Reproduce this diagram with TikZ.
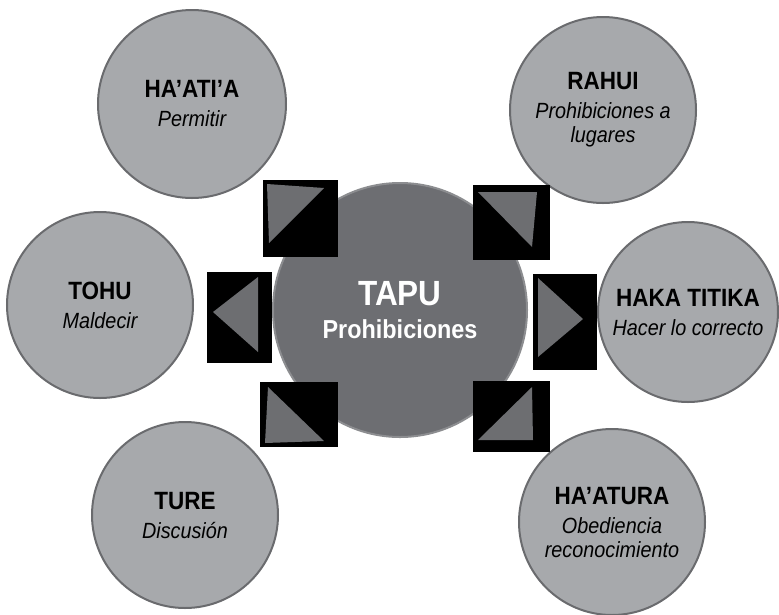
\documentclass[tikz,border=0pt]{standalone}
\usepackage{fontspec}
\newfontfamily\nsans[FakeStretch=0.9]{Liberation Sans}
\definecolor{lightg}{HTML}{A7A9AC}
\definecolor{ringg}{HTML}{6A6B6E}
\definecolor{darkg}{HTML}{6D6E72}
\definecolor{cring}{HTML}{8C8D90}
\definecolor{trig}{HTML}{6D6E71}
\newcommand{\tfont}{\nsans\bfseries\upshape\fontsize{25}{28}\selectfont}
\newcommand{\sfontx}{\nsans\itshape\fontsize{22}{24}\selectfont}
\tikzset{
  outer/.style={circle, draw=ringg, line width=2pt, fill=lightg, inner sep=0pt,
    minimum size=#1, align=center, text=black, font=\sfontx},
  outer/.default=186pt,
  arrbox/.style={fill=black},
  arrtri/.style={fill=trig}
}
\begin{document}
\begin{tikzpicture}[x=1pt,y=-1pt]
\useasboundingbox (0,0) rectangle (779,614);
% central circle
\node[circle, draw=cring, line width=2pt, fill=darkg, minimum size=254pt, inner sep=0pt,
  align=center, text=white, font=\nsans\bfseries\fontsize{26}{33}\selectfont] (tapu) at (400,310)
  {{\fontsize{35}{38}\selectfont TAPU}\\ Prohibiciones};
% outer circles
\node[outer=188pt] (haatia) at (192,104) {{\tfont HA’ATI’A}\\[5pt] Permitir};
\node[outer] (rahui) at (603,110) {{\tfont RAHUI}\\[5pt] Prohibiciones a\\ lugares};
\node[outer] (tohu) at (100,305) {{\tfont TOHU}\\[5pt] Maldecir};
\node[outer=180pt] (haka) at (688,312) {{\tfont HAKA TITIKA}\\[5pt] Hacer lo correcto};
\node[outer] (ture) at (185,515) {{\tfont TURE}\\[5pt] Discusión};
\node[outer] (haatura) at (612,522) {{\tfont HA’ATURA}\\[5pt] Obediencia\\ reconocimiento};
% arrow boxes
% top-left
\fill[arrbox] (263,180) rectangle (338,257);
\fill[arrtri] (267,184) -- (324,188) -- (269,243) -- cycle;
% top-right
\fill[arrbox] (473,185) rectangle (550,260);
\fill[arrtri] (478,192) -- (537,192) -- (532,247) -- cycle;
% left
\fill[arrbox] (207,272) rectangle (272,363);
\fill[arrtri] (213,312) -- (258,277) -- (258,352) -- cycle;
% right
\fill[arrbox] (533,274) rectangle (597,370);
\fill[arrtri] (538,278) -- (583,319) -- (538,357) -- cycle;
% bottom-left
\fill[arrbox] (260,382) rectangle (338,447);
\fill[arrtri] (268,387) -- (324,441) -- (265,443) -- cycle;
% bottom-right
\fill[arrbox] (473,381) rectangle (550,452);
\fill[arrtri] (532,387) -- (533,440) -- (478,440) -- cycle;
\end{tikzpicture}
\end{document}
